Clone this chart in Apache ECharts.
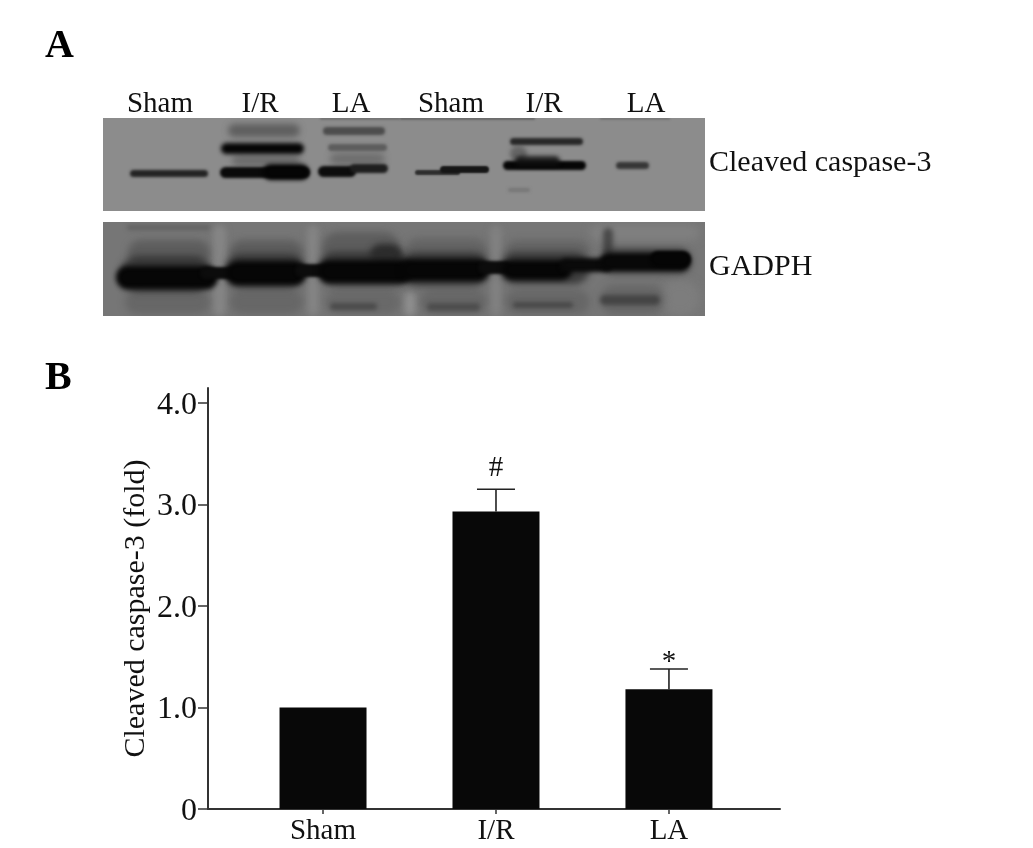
<!DOCTYPE html>
<html>
<head>
<meta charset="utf-8">
<style>html,body{margin:0;padding:0;background:#fff}#c{width:1033px;height:848px}</style>
<script src="https://cdn.jsdelivr.net/npm/echarts@6/dist/echarts.min.js"></script>
</head>
<body>
<div id="c"></div>
<script>
// Bar chart data (panel B)
const categories = ['Sham', 'I/R', 'LA'];
const foldValues = [1.0, 2.93, 1.18];
const errorTops = [1.0, 3.15, 1.38];
const significance = ['', '#', '*'];
const significanceGap = [0, 6, -8];
const yTickValues = [0, 1, 2, 3, 4];
const yTickLabels = ['0', '1.0', '2.0', '3.0', '4.0'];

// Blot image (panel A), each band: [xStart, yStart, xEnd, yEnd, gray, opacity, blur]
const blotPanels = [
  [103, 118, 705, 211, 140, 1, 0],
  [103, 222, 705, 316, 118, 1, 0]
];
const blotGap = [[103, 211, 705, 222, 255, 1, 0]];
const cleavedBands = [
  [320, 117, 400, 120, 90, 0.5, 2],
  [400, 117, 535, 120, 80, 0.6, 2],
  [600, 117, 670, 120, 100, 0.5, 2],
  [130, 170, 208, 177, 35, 1, 3],
  [228, 124, 300, 137, 80, 0.75, 6],
  [232, 155, 300, 166, 90, 0.65, 6],
  [220, 167, 310, 178, 10, 1, 3],
  [263, 164, 309, 180, 5, 1, 4],
  [221, 143, 304, 154, 6, 1, 4],
  [330, 153, 385, 165, 95, 0.65, 6],
  [318, 166, 356, 177, 12, 1, 3],
  [350, 164, 388, 173, 30, 1, 3],
  [328, 144, 387, 151, 85, 0.85, 3],
  [323, 127, 385, 135, 70, 0.9, 3],
  [415, 170, 460, 175, 40, 0.95, 2],
  [440, 166, 489, 173, 22, 1, 2],
  [510, 146, 527, 162, 80, 0.65, 4],
  [503, 161, 586, 170, 6, 1, 3],
  [515, 156, 560, 166, 15, 0.85, 4],
  [510, 138, 583, 145, 35, 0.95, 3],
  [616, 162, 649, 169, 50, 0.95, 3],
  [508, 188, 530, 192, 105, 0.6, 3]
];
const gadphLight = [
  [213, 225, 226, 316, 150, 0.5, 6],
  [307, 225, 319, 316, 145, 0.5, 6],
  [404, 292, 416, 316, 165, 0.5, 6],
  [490, 225, 502, 316, 140, 0.5, 6],
  [590, 225, 700, 240, 135, 0.6, 8],
  [660, 280, 700, 316, 130, 0.6, 8]
];
const gadphBands = [
  [127, 225, 210, 230, 85, 0.6, 4],
  [128, 240, 210, 266, 85, 0.75, 7],
  [230, 240, 303, 266, 85, 0.75, 7],
  [322, 232, 400, 264, 85, 0.75, 7],
  [405, 238, 487, 264, 92, 0.65, 7],
  [505, 240, 590, 264, 92, 0.65, 7],
  [125, 290, 210, 314, 95, 0.65, 7],
  [230, 290, 303, 314, 95, 0.65, 7],
  [325, 290, 400, 314, 95, 0.55, 7],
  [420, 290, 487, 314, 95, 0.65, 7],
  [505, 290, 590, 314, 95, 0.65, 7],
  [600, 285, 665, 314, 95, 0.65, 7],
  [603, 228, 613, 256, 60, 0.8, 5],
  [370, 244, 402, 266, 40, 0.9, 6],
  [120, 256, 212, 292, 45, 0.8, 7],
  [224, 254, 306, 288, 45, 0.8, 7],
  [318, 252, 412, 286, 45, 0.8, 7],
  [400, 252, 490, 286, 45, 0.8, 7],
  [500, 252, 590, 284, 45, 0.8, 7],
  [600, 248, 692, 274, 45, 0.7, 6],
  [116, 266, 218, 289, 6, 1, 5],
  [200, 267, 240, 279, 12, 1, 3],
  [226, 261, 306, 285, 6, 1, 5],
  [295, 264, 330, 277, 12, 1, 3],
  [318, 260, 412, 283, 6, 1, 5],
  [400, 259, 489, 281, 6, 1, 5],
  [478, 261, 512, 274, 12, 1, 3],
  [502, 260, 572, 280, 6, 1, 5],
  [560, 258, 612, 272, 10, 1, 4],
  [600, 253, 690, 271, 8, 1, 4],
  [650, 251, 691, 267, 5, 1, 3],
  [330, 303, 377, 310, 65, 0.75, 4],
  [427, 303, 480, 311, 70, 0.75, 4],
  [513, 302, 573, 308, 65, 0.8, 4],
  [600, 295, 660, 305, 60, 0.8, 4]
];
const laneLabels = ['Sham', 'I/R', 'LA', 'Sham', 'I/R', 'LA'];
const laneLabelX = [160, 260, 351, 451, 544, 646];
const blotNames = ['Cleaved caspase-3', 'GADPH'];
const blotNameY = [163, 267];

const FONT = '"Liberation Serif", "Times New Roman", serif';
const INK = '#111111';
const FAR = 3000;

function blotItem(params, api) {
  const a = api.coord([api.value(0), api.value(1)]);
  const b = api.coord([api.value(2), api.value(3)]);
  const g = api.value(4);
  const col = 'rgb(' + g + ',' + g + ',' + g + ')';
  const blur = api.value(6);
  if (!blur) {
    return {
      type: 'rect',
      shape: { x: a[0], y: a[1], width: b[0] - a[0], height: b[1] - a[1] },
      style: { fill: col }
    };
  }
  // Only the blurred shadow lands on the canvas, so the band has soft edges.
  return {
    type: 'rect',
    shape: { x: a[0] - FAR, y: a[1], width: b[0] - a[0], height: b[1] - a[1], r: (b[1] - a[1]) / 2 },
    style: { fill: col, opacity: api.value(5), shadowBlur: blur, shadowColor: col, shadowOffsetX: FAR }
  };
}

function blotSeries(data, z) {
  return { type: 'custom', xAxisIndex: 1, yAxisIndex: 1, renderItem: blotItem, data, clip: true, z, silent: true };
}

const chart = echarts.init(document.getElementById('c'), null, { renderer: 'canvas' });
chart.setOption({
  animation: false,
  backgroundColor: '#ffffff',
  grid: [
    { left: 208, top: 388, width: 572, height: 421 },
    { left: 103, top: 118, width: 602, height: 198 }
  ],
  xAxis: [
    {
      gridIndex: 0, type: 'value', min: -0.665, max: 2.642,
      splitLine: { show: false },
      axisLine: { show: true, lineStyle: { color: '#333', width: 2 } },
      axisTick: { show: true, length: 5, customValues: [0, 1, 2], lineStyle: { color: '#333', width: 1.5 } },
      axisLabel: {
        show: true, customValues: [0, 1, 2], margin: 8,
        formatter: v => categories[Math.round(v)],
        fontFamily: FONT, fontSize: 29, color: INK
      }
    },
    { gridIndex: 1, type: 'value', min: 103, max: 705, show: false }
  ],
  yAxis: [
    {
      gridIndex: 0, type: 'value', min: 0, max: 4.148,
      name: 'Cleaved caspase-3 (fold)', nameLocation: 'middle', nameRotate: 90, nameGap: 57,
      nameMoveOverlap: false,
      nameTextStyle: { fontFamily: FONT, fontSize: 30, color: INK, padding: [0, 20, 0, 0] },
      splitLine: { show: false },
      axisLine: { show: true, onZero: false, lineStyle: { color: '#333', width: 2 } },
      axisTick: { show: true, length: 10, customValues: yTickValues, lineStyle: { color: '#333', width: 1.5 } },
      axisLabel: {
        show: true, customValues: yTickValues, margin: 11,
        formatter: v => yTickLabels[yTickValues.indexOf(v)],
        fontFamily: FONT, fontSize: 32, color: INK, verticalAlign: 'top', lineHeight: 5
      }
    },
    { gridIndex: 1, type: 'value', min: 118, max: 316, inverse: true, show: false }
  ],
  series: [
    blotSeries(blotPanels, 1),
    blotSeries(gadphLight, 1),
    blotSeries(cleavedBands, 2),
    blotSeries(gadphBands, 2),
    blotSeries(blotGap, 2.5),
    {
      type: 'bar', xAxisIndex: 0, yAxisIndex: 0, barWidth: 87,
      itemStyle: { color: '#080808' },
      data: foldValues.map((v, i) => [i, v]), z: 3
    },
    {
      type: 'custom', xAxisIndex: 0, yAxisIndex: 0, z: 2, clip: false,
      data: categories.map((c, i) => [i, foldValues[i], errorTops[i]]),
      renderItem(params, api) {
        if (api.value(2) <= api.value(1)) return null;
        const base = api.coord([api.value(0), api.value(1)]);
        const top = api.coord([api.value(0), api.value(2)]);
        const style = { stroke: '#222', lineWidth: 1.6, fill: 'none' };
        return {
          type: 'group', children: [
            { type: 'line', shape: { x1: base[0], y1: base[1], x2: top[0], y2: top[1] }, style },
            { type: 'line', shape: { x1: top[0] - 19, y1: top[1], x2: top[0] + 19, y2: top[1] }, style }
          ]
        };
      }
    },
    {
      type: 'custom', xAxisIndex: 0, yAxisIndex: 0, z: 4, clip: false,
      data: categories.map((c, i) => [i, errorTops[i], significance[i]]),
      renderItem(params, api) {
        const p = api.coord([api.value(0), api.value(1)]);
        return {
          type: 'text',
          style: {
            x: p[0], y: p[1] - significanceGap[params.dataIndex], text: significance[params.dataIndex],
            align: 'center', verticalAlign: 'bottom',
            font: '29px ' + FONT, fill: INK
          }
        };
      }
    }
  ],
  graphic: [
    { type: 'text', left: 45, top: 27, style: { text: 'A', font: 'bold 40px ' + FONT, fill: '#000' } },
    { type: 'text', left: 45, top: 359, style: { text: 'B', font: 'bold 40px ' + FONT, fill: '#000' } }
  ].concat(laneLabels.map((t, i) => ({
    type: 'text', x: laneLabelX[i], y: 104,
    style: { text: t, font: '29px ' + FONT, fill: INK, align: 'center', verticalAlign: 'middle' }
  }))).concat(blotNames.map((t, i) => ({
    type: 'text', x: 709, y: blotNameY[i],
    style: { text: t, font: '30px ' + FONT, fill: INK, align: 'left', verticalAlign: 'middle' }
  })))
});
</script>
</body>
</html>
